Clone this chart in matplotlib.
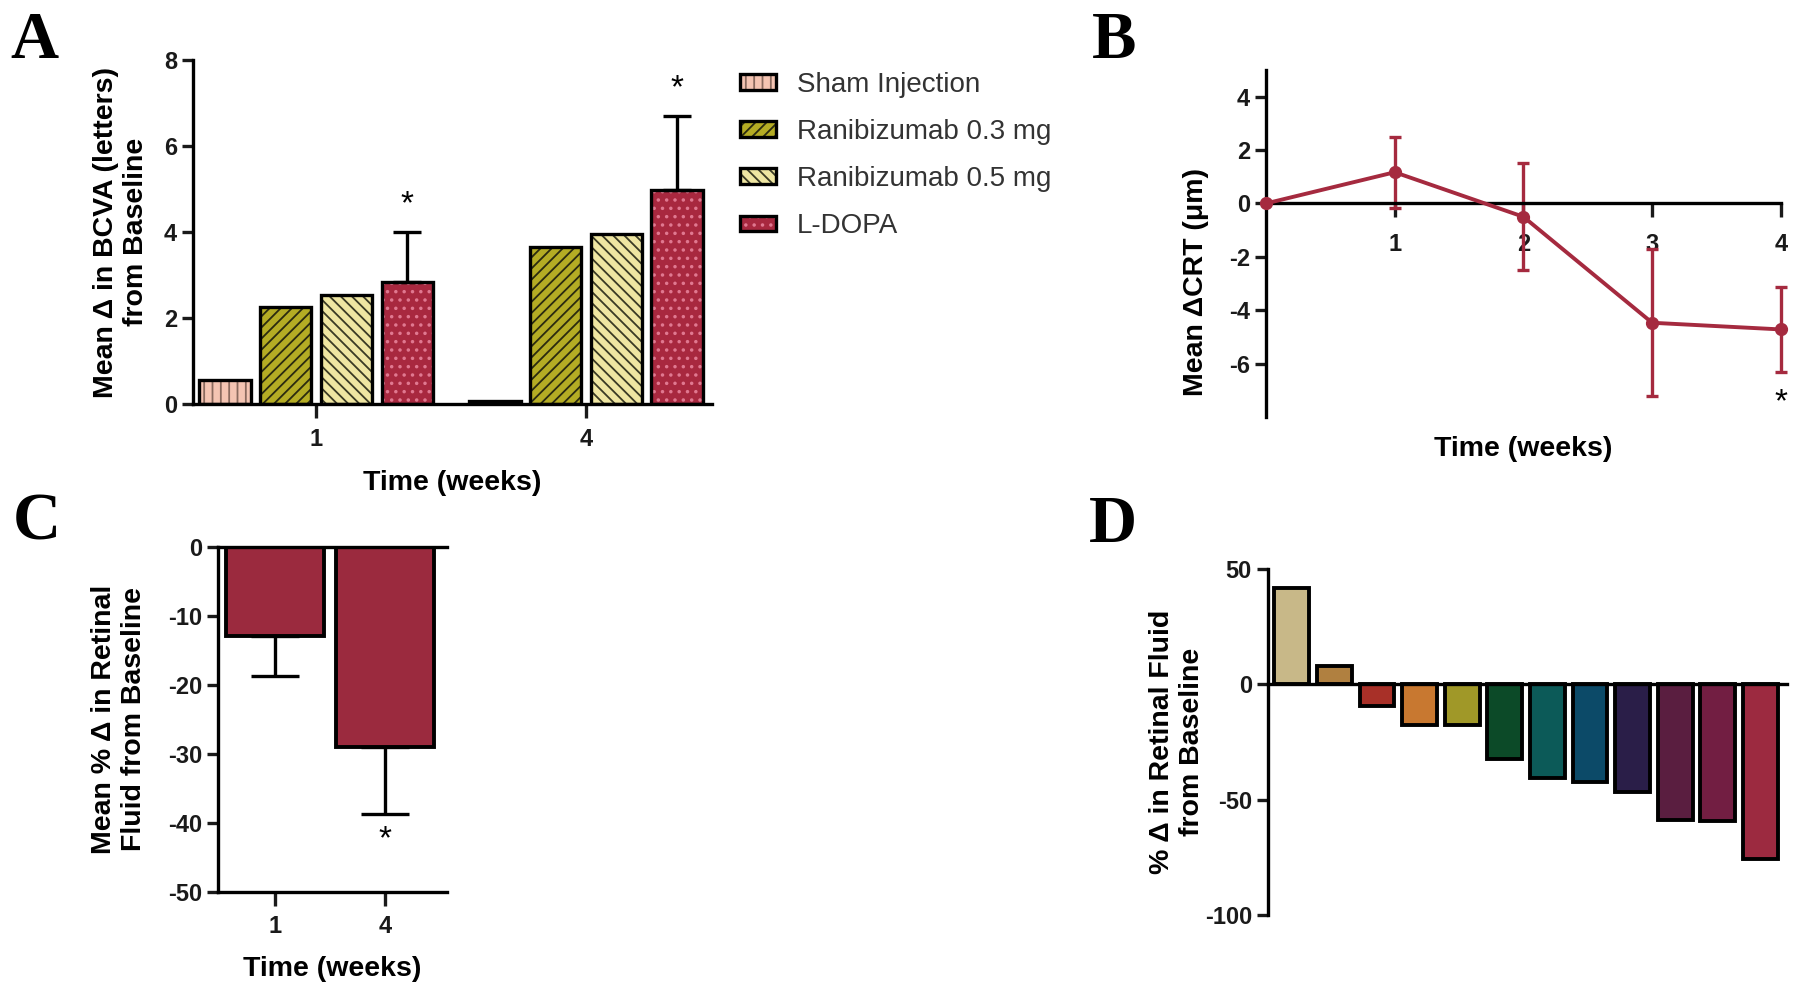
import matplotlib
matplotlib.use('Agg')
import matplotlib.pyplot as plt
from matplotlib.legend_handler import HandlerTuple
import numpy as np

plt.rcParams['font.family'] = ['Liberation Sans', 'DejaVu Sans']
plt.rcParams['font.weight'] = 'bold'
plt.rcParams['axes.labelweight'] = 'bold'
plt.rcParams['axes.unicode_minus'] = False
plt.rcParams['hatch.linewidth'] = 1.3

# ---- data ----
bcva_weeks = ['1', '4']
bcva_groups = ['Sham Injection', 'Ranibizumab 0.3 mg', 'Ranibizumab 0.5 mg', 'L-DOPA']
bcva_sham = [0.57, 0.08]
bcva_r03 = [2.25, 3.66]
bcva_r05 = [2.55, 3.95]
bcva_ldopa = [2.85, 4.97]
bcva_ldopa_err = [1.15, 1.73]

crt_weeks = [0, 1, 2, 3, 4]
crt_mean = [0, 1.17, -0.5, -4.47, -4.72]
crt_err = [0, 1.33, 2.0, 2.76, 1.58]

fluid_weeks = ['1', '4']
fluid_mean = [-12.9, -29.0]
fluid_err = [5.9, 9.8]

patient_change = [42, 8.1, -9.3, -17.4, -17.4, -32.2, -40.6, -42.5, -46.7, -59.0, -59.4, -75.9]
patient_colors = ['#c8b888', '#b08040', '#a83028', '#c87830', '#a09828', '#0c4a28',
                  '#0c5a58', '#0c4a68', '#2a1e48', '#5a1e40', '#721e42', '#9c2a40']

red = '#a52a3f'
LW = 2.4
LBL = 20.5


def style(ax):
    ax.spines['top'].set_visible(False)
    ax.spines['right'].set_visible(False)
    for s in ax.spines.values():
        s.set_linewidth(LW)
    ax.tick_params(width=LW, length=8, labelsize=17, colors='#1a1a1a')
    ax.tick_params(axis='x', length=10, pad=7)


fig = plt.figure(figsize=(18, 9.9), dpi=100)

# ---- A ----
axA = fig.add_axes([0.1072, 0.5916, 0.2884, 0.3478])
style(axA)
x = np.arange(len(bcva_weeks))
off = np.array([-1.5, -0.5, 0.5, 1.5]) * 0.225
fills = ['#f4c4b2', '#b4ac24', '#efe6a2', '#a8283f']
hatch_cols = ['#8a6a5e', '#2a2a10', '#3a3a24', '#e07890']
hatches = ['||', '///', '\\\\\\', '..']
series = [bcva_sham, bcva_r03, bcva_r05, bcva_ldopa]
handles = []
for i, vals in enumerate(series):
    b1 = axA.bar(x + off[i], vals, 0.19, color=fills[i], edgecolor=hatch_cols[i],
                 hatch=hatches[i], lw=0)
    b2 = axA.bar(x + off[i], vals, 0.19, fill=False, edgecolor='k', lw=LW)
    handles.append((b1, b2))
axA.errorbar(x + off[3], bcva_ldopa, yerr=[[0, 0], bcva_ldopa_err], fmt='none',
             ecolor='k', elinewidth=LW, capsize=10, capthick=LW)
for xi, v, e in zip(x + off[3], bcva_ldopa, bcva_ldopa_err):
    axA.text(xi, v + e + 0.64, '*', ha='center', va='center', fontsize=24, weight='normal')
axA.set_xlim(-0.456, 1.467)
axA.set_ylim(0, 8)
axA.set_yticks([0, 2, 4, 6, 8])
axA.set_xticks(x)
axA.set_xticklabels(bcva_weeks)
axA.set_ylabel('Mean \u0394 in BCVA (letters)\nfrom Baseline', fontsize=LBL)
axA.yaxis.set_label_coords(-0.085, 0.5)
axA.set_xlabel('Time (weeks)', fontsize=LBL)
axA.xaxis.set_label_coords(0.5, -0.19)

fig.legend(handles, bcva_groups, loc='upper left', bbox_to_anchor=(740 / 1800, 1 - 72 / 990),
           frameon=False, prop={'size': 20, 'weight': 'normal'}, labelcolor='#333333',
           handlelength=1.3, handleheight=0.5, handletextpad=0.75, labelspacing=0.76,
           borderpad=0, borderaxespad=0, handler_map={tuple: HandlerTuple(ndivide=1)})

# ---- B ----
axB = fig.add_axes([0.7033, 0.5788, 0.2861, 0.3505])
style(axB)
axB.spines['bottom'].set_position(('data', 0))
axB.plot(crt_weeks, crt_mean, color=red, lw=2.8, marker='o', ms=8.5, clip_on=False, zorder=3)
axB.errorbar(crt_weeks[1:], crt_mean[1:], yerr=crt_err[1:], fmt='none', ecolor=red,
             elinewidth=LW, capsize=4, capthick=LW, clip_on=False)
axB.text(4, -7.45, '*', ha='center', va='center', fontsize=24, weight='normal')
axB.set_xlim(0, 4.0)
axB.set_ylim(-8, 5)
axB.set_xticks([1, 2, 3, 4])
axB.set_yticks([-6, -4, -2, 0, 2, 4])
axB.tick_params(axis='x', pad=11)
axB.set_ylabel('Mean \u0394CRT (\u03bcm)', fontsize=LBL)
axB.yaxis.set_label_coords(-0.11, 0.39)
axB.set_xlabel('Time (weeks)', fontsize=LBL)
axB.xaxis.set_label_coords(0.5, -0.055)

# ---- C ----
axC = fig.add_axes([0.1211, 0.0993, 0.1272, 0.3485])
style(axC)
axC.spines['top'].set_visible(True)
xc = np.arange(len(fluid_weeks))
axC.bar(xc, fluid_mean, 0.89, color='#9b2a3e', edgecolor='k', lw=LW + 0.4)
axC.errorbar(xc, fluid_mean, yerr=[fluid_err, [0, 0]], fmt='none', ecolor='k',
             elinewidth=LW, capsize=17, capthick=LW)
axC.text(1, -42.5, '*', ha='center', va='center', fontsize=24, weight='normal')
axC.set_xlim(-0.52, 1.56)
axC.set_ylim(-50, 0)
axC.set_yticks([-50, -40, -30, -20, -10, 0])
axC.set_xticks(xc)
axC.set_xticklabels(fluid_weeks)
axC.set_ylabel('Mean % \u0394 in Retinal\nFluid from Baseline', fontsize=LBL)
axC.yaxis.set_label_coords(-0.31, 0.5)
axC.set_xlabel('Time (weeks)', fontsize=LBL)
axC.xaxis.set_label_coords(0.5, -0.185)

# ---- D ----
axD = fig.add_axes([0.7044, 0.0758, 0.2883, 0.3492])
style(axD)
axD.spines['bottom'].set_position(('data', 0))
xd = np.arange(len(patient_change))
axD.bar(xd, patient_change, 0.82, color=patient_colors, edgecolor='k', lw=LW + 0.4)
axD.set_xlim(-0.56, 11.62)
axD.set_ylim(-100, 50)
axD.set_yticks([-100, -50, 0, 50])
axD.set_xticks([])
axD.set_ylabel('% \u0394 in Retinal Fluid\nfrom Baseline', fontsize=LBL)
axD.yaxis.set_label_coords(-0.121, 0.5)

# ---- panel letters ----
for lx, ly, lt in [(10, 58, 'A'), (1092, 58, 'B'), (13, 540, 'C'), (1089, 542, 'D')]:
    fig.text(lx / 1800, 1 - ly / 990, lt, family='Liberation Serif', weight='bold',
             fontsize=48, va='baseline', ha='left')

fig.savefig('out.png', dpi=100)
